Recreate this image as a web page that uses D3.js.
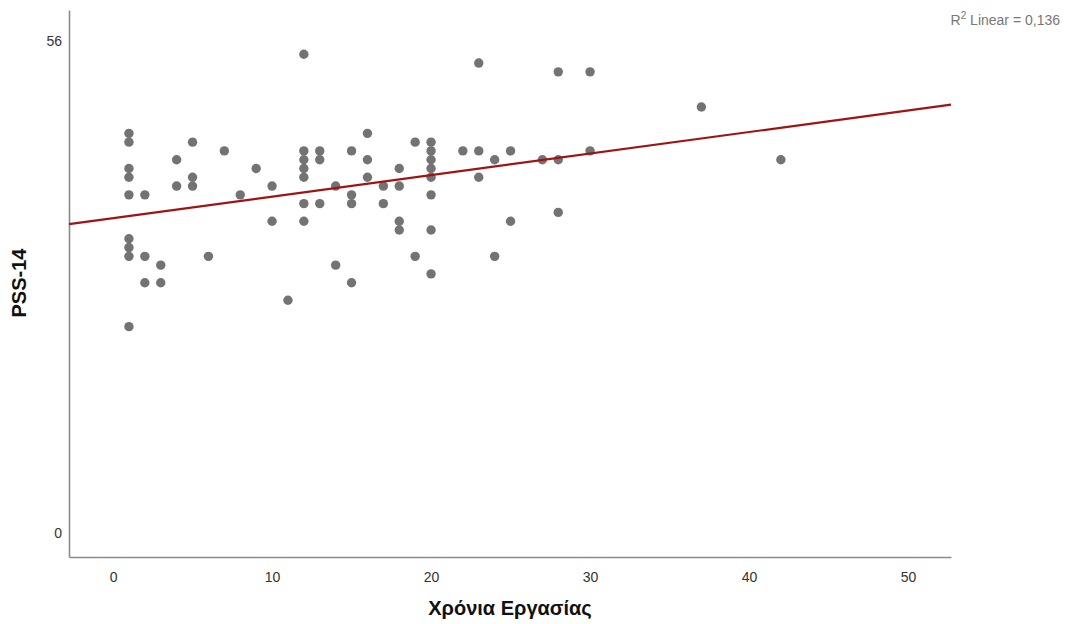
<!DOCTYPE html>
<html>
<head>
<meta charset="utf-8">
<script src="https://cdn.jsdelivr.net/npm/d3@7"></script>
<style>
  html, body { margin: 0; padding: 0; background: #fff; }
  svg { display: block; }
</style>
</head>
<body>
<svg id="chart" width="1065" height="624"></svg>
<script>
// Years of work (x) and PSS-14 score (y), one entry per respondent
const yearsWorked = [
  1,1,1,1,1,1,1,1,1,
  2,2,2,
  3,3,
  4,4,
  5,5,5,
  6, 7, 8, 9,
  10,10,
  11,
  12,12,12,12,12,12,12,
  13,13,13,
  14,14,
  15,15,15,15,
  16,16,16,
  17,17,
  18,18,18,18,
  19,19,
  20,20,20,20,20,20,20,20,
  22,
  23,23,23,
  24,24,
  25,25,
  27,
  28,28,28,
  30,30,
  37,
  42
];
const pssScores = [
  45,44,41,40,38,33,32,31,23,
  38,31,28,
  30,28,
  42,39,
  44,40,39,
  31, 43, 38, 41,
  39,35,
  26,
  54,43,42,41,40,37,35,
  43,42,37,
  39,30,
  43,38,37,28,
  45,42,40,
  39,37,
  41,39,35,34,
  44,31,
  44,43,42,41,40,38,34,29,
  43,
  53,43,40,
  42,31,
  43,35,
  42,
  52,42,36,
  52,43,
  48,
  42
];
const xTickValues = [0, 10, 20, 30, 40, 50];
const yTickValues = [0, 56];
const xTitle = "Χρόνια Εργασίας";
const yTitle = "PSS-14";
const fitLabel = "0,136";

const points = yearsWorked.map((x, i) => ({ x, y: pssScores[i] }));

const svg = d3.select("#chart");

// Plot frame
const plotLeft = 69, plotRight = 951, plotTop = 10, plotBottom = 557;

const x = d3.scaleLinear().domain([-2.77, 52.7]).range([plotLeft, plotRight]);
const y = d3.scaleLinear().domain([-3.22, 59.04]).range([plotBottom, plotTop]);

// Least-squares fit line
const mx = d3.mean(points, d => d.x);
const my = d3.mean(points, d => d.y);
const sxy = d3.sum(points, d => (d.x - mx) * (d.y - my));
const sxx = d3.sum(points, d => (d.x - mx) * (d.x - mx));
const slope = sxy / sxx;
const intercept = my - slope * mx;
const xd = x.domain();

// Axes (no tick marks, only labels)
const xAxis = d3.axisBottom(x).tickValues(xTickValues).tickSize(0).tickPadding(15);
const yAxis = d3.axisLeft(y).tickValues(yTickValues).tickSize(0).tickPadding(7);

const gx = svg.append("g").attr("transform", `translate(0,${plotBottom})`).call(xAxis);
const gy = svg.append("g").attr("transform", `translate(${plotLeft},0)`).call(yAxis);

[gx, gy].forEach(g => {
  g.select(".domain").attr("stroke", "#8a8a8a").attr("stroke-width", 1.6);
  g.selectAll("text")
    .attr("fill", "#333")
    .style("font-family", "'Liberation Sans', Arial, sans-serif")
    .style("font-size", "14px");
});
gy.selectAll("text").attr("dy", "0.6em");

// Scatter points
svg.append("g")
  .selectAll("circle")
  .data(points)
  .join("circle")
  .attr("cx", d => x(d.x))
  .attr("cy", d => y(d.y))
  .attr("r", 4.7)
  .attr("fill", "#737373");

// Regression line
svg.append("line")
  .attr("x1", x(xd[0])).attr("y1", y(intercept + slope * xd[0]))
  .attr("x2", x(xd[1])).attr("y2", y(intercept + slope * xd[1]))
  .attr("stroke", "#9e1414")
  .attr("stroke-width", 2.2);

// Axis titles
svg.append("text")
  .attr("x", 510).attr("y", 615)
  .attr("text-anchor", "middle")
  .attr("fill", "#111")
  .style("font-family", "'Liberation Sans', Arial, sans-serif")
  .style("font-size", "20px")
  .style("font-weight", "bold")
  .text(xTitle);

svg.append("text")
  .attr("transform", "translate(26,283) rotate(-90)")
  .attr("text-anchor", "middle")
  .attr("fill", "#111")
  .style("font-family", "'Liberation Sans', Arial, sans-serif")
  .style("font-size", "20px")
  .style("font-weight", "bold")
  .text(yTitle);

// Fit annotation
const note = svg.append("text")
  .attr("x", 1060).attr("y", 25)
  .attr("text-anchor", "end")
  .attr("fill", "#777")
  .style("font-family", "'Liberation Sans', Arial, sans-serif")
  .style("font-size", "14px");
note.append("tspan").text("R");
note.append("tspan").attr("dy", "-6").style("font-size", "10px").text("2");
note.append("tspan").attr("dy", "6").text(" Linear = " + fitLabel);
</script>
</body>
</html>
